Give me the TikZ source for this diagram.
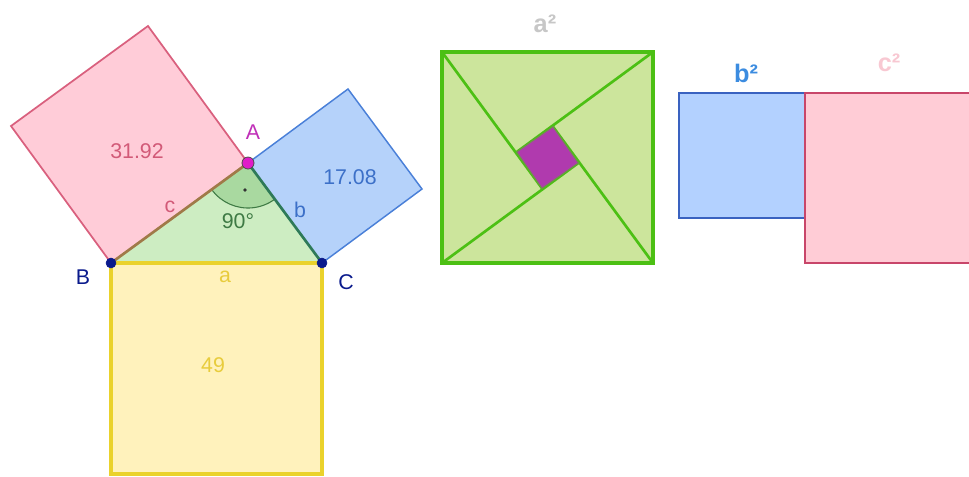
\documentclass[tikz,border=0pt]{standalone}
\usepackage{fontspec}
\setmainfont{Liberation Sans}
\begin{document}
\begin{tikzpicture}[x=0.75pt,y=-0.75pt,
  lbl/.style={font=\fontsize{16}{19}\selectfont, inner sep=0pt},
  sqlbl/.style={font=\bfseries\fontsize{19}{22}\selectfont, inner sep=0pt},
  pt/.style={circle, inner sep=0pt, minimum size=7.5pt, draw=navy, fill=navy},
]
\definecolor{navy}{HTML}{0A1A8C}
\definecolor{pinkfill}{HTML}{FFCCD8}
\definecolor{pinkline}{HTML}{D9607E}
\definecolor{pinktext}{HTML}{D25A78}
\definecolor{bluefill}{HTML}{B5D2FA}
\definecolor{blueline}{HTML}{4A80D8}
\definecolor{bluetext}{HTML}{3C70C8}
\definecolor{yelfill}{HTML}{FFF2BC}
\definecolor{yelline}{HTML}{EAD22C}
\definecolor{yeltext}{HTML}{E8CC3C}
\definecolor{trifill}{HTML}{CDEDC2}
\definecolor{angfill}{HTML}{A9D9A0}
\definecolor{angline}{HTML}{3E7A44}
\definecolor{cline}{HTML}{A07A48}
\definecolor{bline}{HTML}{2E7A58}
\definecolor{grfill}{HTML}{CCE59C}
\definecolor{grline}{HTML}{4CC014}
\definecolor{purp}{HTML}{B03AAE}
\definecolor{magenta2}{HTML}{E01CC8}
\definecolor{atext}{HTML}{C030B8}
\definecolor{b2fill}{HTML}{B3D1FF}
\definecolor{b2line}{HTML}{3A62C0}
\definecolor{b2text}{HTML}{3C8CE0}
\definecolor{c2fill}{HTML}{FFCCD6}
\definecolor{c2line}{HTML}{C8466A}
\definecolor{c2text}{HTML}{F8C8D2}
\useasboundingbox (0,0) rectangle (969,476);
\clip (0,0) rectangle (969,476);

% triangle vertices
\coordinate (B) at (111,263);
\coordinate (C) at (322,263);
\coordinate (A) at (248,163);

% square on c (pink)
\coordinate (c1) at (148,26);
\coordinate (c2) at (11,126);
\filldraw[fill=pinkfill, draw=pinkline, line width=1.3pt] (B) -- (A) -- (c1) -- (c2) -- cycle;
% square on b (blue)
\coordinate (b1) at (422,189);
\coordinate (b2) at (348,89);
\filldraw[fill=bluefill, draw=blueline, line width=1.1pt] (A) -- (C) -- (b1) -- (b2) -- cycle;
% square on a (yellow)
\coordinate (a1) at (322,474);
\coordinate (a2) at (111,474);
\filldraw[fill=yelfill, draw=yelline, line width=2.3pt] (B) -- (C) -- (a1) -- (a2) -- cycle;

% triangle
\fill[trifill] (A) -- (B) -- (C) -- cycle;
\filldraw[fill=angfill, draw=angline, line width=0.8pt] (A) -- ++(-143.9:33.75pt) arc[start angle=-143.9, end angle=-53.5, radius=33.75pt] -- cycle;
\fill[black!80] (245,190) circle[radius=1.4pt];
\draw[cline, line width=2pt] (B) -- (A);
\draw[bline, line width=2pt] (A) -- (C);
\draw[yelline, line width=2.6pt] (B) -- (C);

% points
\node[pt] (Bp) at (B) {};
\node[pt] (Cp) at (C) {};
\node[circle, inner sep=0pt, minimum size=9pt, draw=black!70, line width=0.6pt, fill=magenta2] (Ap) at (A) {};

% labels left figure
\node[lbl, text=pinktext] (lc2) at (137,151) {31.92};
\node[lbl, text=pinktext] (lc) at (170,207) {c};
\node[lbl, text=angline] (l90) at (238,221) {90°};
\node[lbl, text=atext] (lA) at (253,132) {A};
\node[lbl, text=navy] (lB) at (83,277) {B};
\node[lbl, text=navy] (lC) at (346,282) {C};
\node[lbl, text=bluetext] (lb) at (300,210) {b};
\node[lbl, text=bluetext] (lb2) at (350,177) {17.08};
\node[lbl, text=yeltext] (la) at (225,277) {a};
\node[lbl, text=yeltext] (la2) at (213,365) {49};

% green square a^2
\coordinate (TL) at (442,52);
\coordinate (TR) at (653,52);
\coordinate (BR) at (653,263);
\coordinate (BL) at (442,263);
\coordinate (p1) at (542,188.3);
\coordinate (p2) at (578.3,163);
\coordinate (p3) at (553,126.7);
\coordinate (p4) at (516.7,152);
\fill[grfill] (TL) -- (TR) -- (BR) -- (BL) -- cycle;
\draw[grline, line width=2pt] (TL) -- (p1);
\draw[grline, line width=2pt] (BL) -- (p2);
\draw[grline, line width=2pt] (BR) -- (p3);
\draw[grline, line width=2pt] (TR) -- (p4);
\filldraw[fill=purp, draw=grline!60!purp, line width=0.8pt] (p1) -- (p2) -- (p3) -- (p4) -- cycle;
\draw[grline, line width=2.3pt] (TL) -- (TR) -- (BR) -- (BL) -- cycle;
\node[sqlbl, text=black!22] (lasq) at (545,24) {a²};

% b^2 and c^2 squares
\filldraw[fill=b2fill, draw=b2line, line width=1pt] (679,93) rectangle (805,218);
\filldraw[fill=c2fill, draw=c2line, line width=1pt] (805,93) rectangle (975,263);
\node[sqlbl, text=b2text] (lbsq) at (746,73) {b²};
\node[sqlbl, text=c2text] (lcsq) at (889,63) {c²};
\end{tikzpicture}
\end{document}
